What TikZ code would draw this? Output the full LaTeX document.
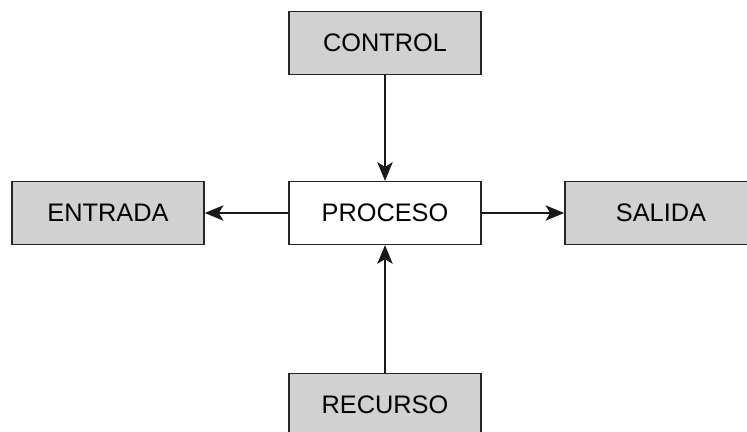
\documentclass[tikz,border=0pt]{standalone}
\usepackage{fontspec}
\setmainfont{Liberation Sans}
\usepackage{tikz}
\usetikzlibrary{arrows.meta}

\begin{document}
\begin{tikzpicture}[x=0.75pt,y=-0.75pt,
    box/.style={draw=black!85,line width=1.2pt,fill=black!18,minimum width=144pt,minimum height=47pt,inner sep=0pt,font=\fontsize{19}{22}\selectfont},
    flecha/.style={line width=1.2pt,draw=black!90,-{Stealth[length=14pt,width=11.5pt,inset=3.5pt]}}]
    \useasboundingbox (0,0) rectangle (747,432);
    \clip (0,0) rectangle (747,432);
    \node[box] (control) at (385,43) {CONTROL};
    \node[box,fill=white] (proceso) at (385,213) {PROCESO};
    \node[box] (entrada) at (108,213) {ENTRADA};
    \node[box] (salida) at (661,213) {SALIDA};
    \node[box] (recurso) at (385,405) {RECURSO};
    \draw[flecha] (control) -- (proceso);
    \draw[flecha] (recurso) -- (proceso);
    \draw[flecha] (proceso) -- (entrada);
    \draw[flecha] (proceso) -- (salida);
\end{tikzpicture}
\end{document}
